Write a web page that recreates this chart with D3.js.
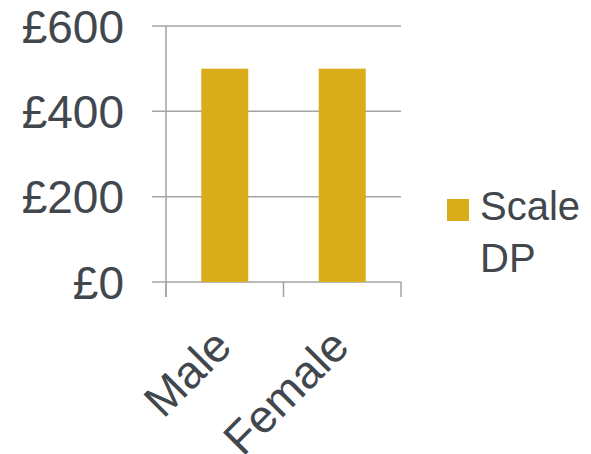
<!DOCTYPE html>
<html>
<head>
<meta charset="utf-8">
<script src="https://cdn.jsdelivr.net/npm/d3@7"></script>
<style>
  body { margin: 0; background: #fff; }
  text { font-family: "Liberation Sans", Arial, sans-serif; fill: #41474d; }
</style>
</head>
<body>
<div class="chart"></div>
<script>
    var categories = ["Male", "Female"];
    var values = [500, 500];
    var yTicks = [0, 200, 400, 600];
    var seriesName = ["Scale", "DP"];

    var width = 591, height = 454;
    var plotLeft = 166, plotRight = 401, plotTop = 26, plotBottom = 282;

    var svg = d3.select(".chart")
        .append("svg")
        .attr("width", width)
        .attr("height", height)

    //scales
    var x = d3.scaleBand()
        .domain(categories)
        .range([plotLeft, plotRight])
        .paddingInner(0.6)
        .paddingOuter(0.3);

    var y = d3.scaleLinear()
        .domain([0, 600])
        .range([plotBottom, plotTop]);

    //gridlines
    svg.selectAll(".grid")
        .data(yTicks)
        .join("line")
        .attr("class", "grid")
        .attr("x1", plotLeft - 14)
        .attr("x2", plotRight)
        .attr("y1", function (d) { return y(d) })
        .attr("y2", function (d) { return y(d) })
        .attr("stroke", "#a3a3a3")
        .attr("stroke-width", 1.5);

    //y axis line
    svg.append("line")
        .attr("x1", plotLeft).attr("x2", plotLeft)
        .attr("y1", y(600)).attr("y2", plotBottom + 15)
        .attr("stroke", "#a3a3a3")
        .attr("stroke-width", 1.5);

    //x ticks at band edges
    var edges = [plotLeft].concat(categories.map(function (d) { return x(d) + x.bandwidth() + x.step() * x.paddingInner() / 2 }))
    edges[edges.length - 1] = plotRight;
    svg.selectAll(".xtick")
        .data(edges)
        .join("line")
        .attr("class", "xtick")
        .attr("x1", function (d) { return d })
        .attr("x2", function (d) { return d })
        .attr("y1", plotBottom)
        .attr("y2", plotBottom + 15)
        .attr("stroke", "#a3a3a3")
        .attr("stroke-width", 1.5);

    //y labels
    svg.selectAll(".ylabel")
        .data(yTicks)
        .join("text")
        .attr("class", "ylabel")
        .attr("x", 124)
        .attr("y", function (d) { return y(d) })
        .attr("dy", "0.36em")
        .attr("text-anchor", "end")
        .attr("font-size", "46px")
        .text(function (d) { return "£" + d });

    //bars
    svg.selectAll(".bar")
        .data(values)
        .join("rect")
        .attr("class", "bar")
        .attr("x", function (d, i) { return x(categories[i]) })
        .attr("y", function (d) { return y(d) })
        .attr("width", x.bandwidth())
        .attr("height", function (d) { return plotBottom - y(d) })
        .attr("fill", "#d9ac19");

    //category labels
    svg.selectAll(".xlabel")
        .data(categories)
        .join("text")
        .attr("class", "xlabel")
        .attr("transform", function (d) {
            return "translate(" + (x(d) + x.bandwidth() / 2 + 9) + "," + (plotBottom + 67) + ") rotate(-45)"
        })
        .attr("text-anchor", "end")
        .attr("font-size", "46px")
        .text(function (d) { return d });

    //legend
    svg.append("rect")
        .attr("x", 447)
        .attr("y", 199)
        .attr("width", 22)
        .attr("height", 22)
        .attr("fill", "#d9ac19");

    svg.append("text")
        .attr("x", 480)
        .attr("y", 220)
        .attr("font-size", "40px")
        .selectAll("tspan")
        .data(seriesName)
        .join("tspan")
        .attr("x", 480)
        .attr("dy", function (d, i) { return i == 0 ? 0 : 52 })
        .text(function (d) { return d });
</script>
</body>
</html>
